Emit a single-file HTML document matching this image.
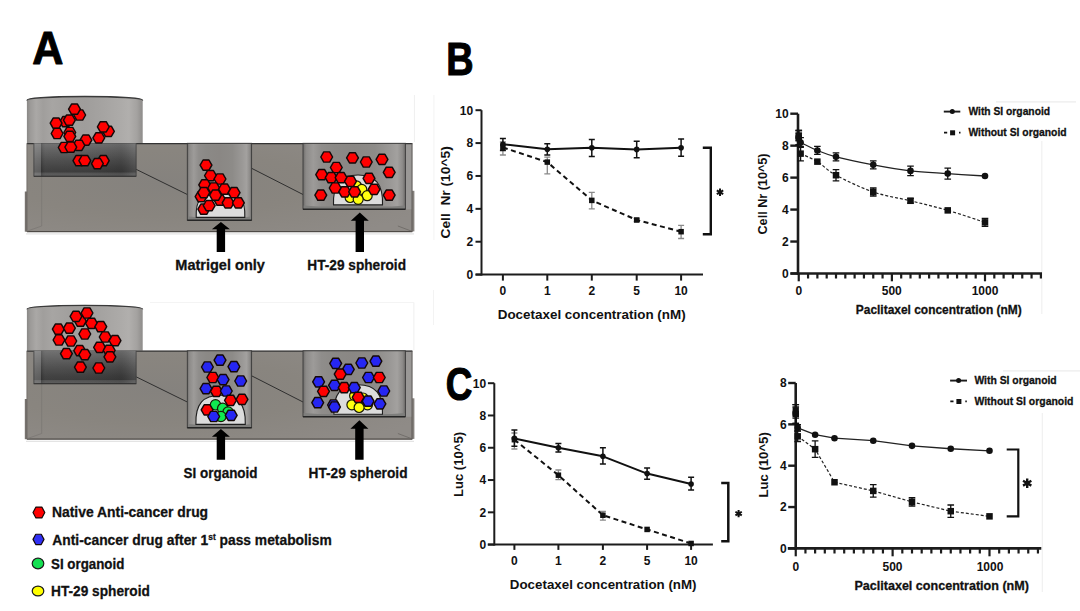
<!DOCTYPE html>
<html><head><meta charset="utf-8"><style>
html,body{margin:0;padding:0;background:#fff;}
svg{display:block;font-family:"Liberation Sans", sans-serif;}
</style></head><body>
<svg width="1080" height="611" viewBox="0 0 1080 611">

<defs>
<linearGradient id="gcyl" x1="0" x2="1" y1="0" y2="0">
 <stop offset="0" stop-color="#8a8886"/><stop offset="0.03" stop-color="#9c9a98"/><stop offset="0.08" stop-color="#aaa8a6"/><stop offset="0.14" stop-color="#a09e9c"/>
 <stop offset="0.22" stop-color="#a7a5a3"/><stop offset="0.35" stop-color="#a2a09e"/><stop offset="0.5" stop-color="#9f9d9b"/><stop offset="0.65" stop-color="#a5a3a1"/>
 <stop offset="0.8" stop-color="#acaaa8"/><stop offset="0.88" stop-color="#b1afad"/><stop offset="0.95" stop-color="#a4a2a0"/><stop offset="1" stop-color="#8e8c8a"/>
</linearGradient>
<radialGradient id="gbody" cx="0.35" cy="0.45" r="0.75">
 <stop offset="0" stop-color="#85827e"/><stop offset="0.5" stop-color="#89857f"/><stop offset="1" stop-color="#8f8b87"/>
</radialGradient>
<linearGradient id="gdarkv" x1="0" x2="0" y1="0" y2="1">
 <stop offset="0" stop-color="#6c6c6c"/><stop offset="0.2" stop-color="#5e5e5e"/><stop offset="0.5" stop-color="#4a4a4a"/><stop offset="0.75" stop-color="#3c3c3c"/><stop offset="0.87" stop-color="#373737"/><stop offset="0.9" stop-color="#4e4e4e"/><stop offset="1" stop-color="#5a5a5a"/>
</linearGradient>
<linearGradient id="gdarkh" x1="0" x2="1" y1="0" y2="0">
 <stop offset="0" stop-color="#ffffff" stop-opacity="0.22"/><stop offset="0.07" stop-color="#ffffff" stop-opacity="0.18"/><stop offset="0.075" stop-color="#000" stop-opacity="0.1"/><stop offset="0.12" stop-color="#fff" stop-opacity="0.04"/>
 <stop offset="0.5" stop-color="#fff" stop-opacity="0.03"/><stop offset="0.85" stop-color="#000" stop-opacity="0.04"/><stop offset="0.95" stop-color="#fff" stop-opacity="0.06"/><stop offset="1" stop-color="#fff" stop-opacity="0.1"/>
</linearGradient>
<linearGradient id="gwell" x1="0" x2="1" y1="0" y2="0">
 <stop offset="0" stop-color="#6e6c6a"/><stop offset="0.03" stop-color="#8c8a88"/><stop offset="0.1" stop-color="#9d9b99"/><stop offset="0.18" stop-color="#8f8d8b"/>
 <stop offset="0.3" stop-color="#8b8986"/><stop offset="0.5" stop-color="#8a8784"/><stop offset="0.7" stop-color="#8d8b88"/><stop offset="0.85" stop-color="#9a9896"/>
 <stop offset="0.92" stop-color="#a3a19f"/><stop offset="0.97" stop-color="#8e8c8a"/><stop offset="1" stop-color="#6e6c6a"/>
</linearGradient>
</defs>

<text x="0" y="0" font-size="45.49" font-weight="bold" fill="#000" stroke="#000" stroke-width="0.95" stroke-linejoin="round" transform="translate(32.17,63.55) scale(0.9501,1)">A</text>
<g transform="translate(0,0)">
<path d="M26.9,100.2 A57.9,3.9 0 0 1 142.7,100.2 V143.3 H26.9 Z" fill="url(#gcyl)" />
<path d="M26.9,100.4 A57.9,3.9 0 0 1 142.7,100.4" fill="none" stroke="#3a3a3a" stroke-width="1.3"/>
<rect x="26.9" y="143.3" width="385.4" height="88.4" fill="url(#gbody)"/>
<rect x="24.8" y="191.5" width="2.4" height="40.2" fill="#77726e"/>
<rect x="411.8" y="190.8" width="2.6" height="40.6" fill="#85817d"/>
<rect x="405.4" y="143.3" width="6.6" height="66" fill="#9a9896"/>
<line x1="26.9" y1="143.6" x2="412.3" y2="143.6" stroke="#343434" stroke-width="1.4"/>
<line x1="26.9" y1="231.6" x2="412.3" y2="231.6" stroke="#4e4a46" stroke-width="1.3"/>
<line x1="26" y1="233.9" x2="414" y2="233.9" stroke="#e4e4e4" stroke-width="1.2"/>
<line x1="26.9" y1="143.3" x2="26.9" y2="231.7" stroke="#6a6662" stroke-width="0.8"/>
<line x1="412" y1="143.3" x2="412" y2="231.7" stroke="#5a5652" stroke-width="0.9"/>
<path d="M41.7,176.3 V226 L27.5,231" fill="none" stroke="#7b7773" stroke-width="0.8"/>
<path d="M397.9,226 L411.6,231.2" fill="none" stroke="#6b6763" stroke-width="0.8"/>
<rect x="33.7" y="143.3" width="102.6" height="33" fill="url(#gdarkv)"/>
<rect x="33.7" y="143.3" width="102.6" height="33" fill="url(#gdarkh)"/>
<line x1="33.7" y1="176.2" x2="136.3" y2="176.2" stroke="#262626" stroke-width="1.1"/>
<line x1="33.9" y1="143.3" x2="33.9" y2="176.2" stroke="#3a3a3a" stroke-width="0.7"/>
<line x1="136.1" y1="143.3" x2="136.1" y2="176.2" stroke="#3a3a3a" stroke-width="0.7"/>
<line x1="136.3" y1="169.4" x2="187.3" y2="194.5" stroke="#2f2f2f" stroke-width="1"/>
<line x1="251.6" y1="168.3" x2="303" y2="194.5" stroke="#2f2f2f" stroke-width="1"/>
<rect x="187.3" y="143.3" width="64.3" height="76.9" fill="url(#gwell)" stroke="#3a3a3a" stroke-width="0.9"/>
<path d="M188,216.5 Q192,216.8 196,217.3 H245.5 Q249,216.8 251,216.5 V220 H188 Z" fill="#7e7e7c"/>
<line x1="187.3" y1="220.3" x2="251.6" y2="220.3" stroke="#262626" stroke-width="1.4"/>
<rect x="303" y="143.3" width="102.4" height="65.8" fill="url(#gwell)" stroke="#3a3a3a" stroke-width="0.9"/>
<path d="M303.7,205.5 Q310,206 318,206.5 H392 Q400,206 404.7,205.5 V209 H303.7 Z" fill="#7e7e7c"/>
<line x1="303" y1="209.3" x2="405.4" y2="209.3" stroke="#262626" stroke-width="1.4"/>
</g>
<g transform="translate(0,207.5)">
<path d="M26.9,101.5 A57.9,3.9 0 0 1 142.7,101.5 V143.3 H26.9 Z" fill="url(#gcyl)" />
<path d="M26.9,101.7 A57.9,3.9 0 0 1 142.7,101.7" fill="none" stroke="#3a3a3a" stroke-width="1.3"/>
<rect x="26.9" y="143.3" width="385.4" height="88.4" fill="url(#gbody)"/>
<rect x="24.8" y="191.5" width="2.4" height="40.2" fill="#77726e"/>
<rect x="411.8" y="190.8" width="2.6" height="40.6" fill="#85817d"/>
<rect x="405.4" y="143.3" width="6.6" height="66" fill="#9a9896"/>
<line x1="26.9" y1="143.6" x2="412.3" y2="143.6" stroke="#343434" stroke-width="1.4"/>
<line x1="26.9" y1="231.6" x2="412.3" y2="231.6" stroke="#4e4a46" stroke-width="1.3"/>
<line x1="26" y1="233.9" x2="414" y2="233.9" stroke="#e4e4e4" stroke-width="1.2"/>
<line x1="26.9" y1="143.3" x2="26.9" y2="231.7" stroke="#6a6662" stroke-width="0.8"/>
<line x1="412" y1="143.3" x2="412" y2="231.7" stroke="#5a5652" stroke-width="0.9"/>
<path d="M41.7,176.3 V226 L27.5,231" fill="none" stroke="#7b7773" stroke-width="0.8"/>
<path d="M397.9,226 L411.6,231.2" fill="none" stroke="#6b6763" stroke-width="0.8"/>
<rect x="33.7" y="143.3" width="102.6" height="33" fill="url(#gdarkv)"/>
<rect x="33.7" y="143.3" width="102.6" height="33" fill="url(#gdarkh)"/>
<line x1="33.7" y1="176.2" x2="136.3" y2="176.2" stroke="#262626" stroke-width="1.1"/>
<line x1="33.9" y1="143.3" x2="33.9" y2="176.2" stroke="#3a3a3a" stroke-width="0.7"/>
<line x1="136.1" y1="143.3" x2="136.1" y2="176.2" stroke="#3a3a3a" stroke-width="0.7"/>
<line x1="136.3" y1="169.4" x2="187.3" y2="194.5" stroke="#2f2f2f" stroke-width="1"/>
<line x1="251.6" y1="168.3" x2="303" y2="194.5" stroke="#2f2f2f" stroke-width="1"/>
<rect x="187.3" y="143.3" width="64.3" height="76.9" fill="url(#gwell)" stroke="#3a3a3a" stroke-width="0.9"/>
<path d="M188,216.5 Q192,216.8 196,217.3 H245.5 Q249,216.8 251,216.5 V220 H188 Z" fill="#7e7e7c"/>
<line x1="187.3" y1="220.3" x2="251.6" y2="220.3" stroke="#262626" stroke-width="1.4"/>
<rect x="303" y="143.3" width="102.4" height="65.8" fill="url(#gwell)" stroke="#3a3a3a" stroke-width="0.9"/>
<path d="M303.7,205.5 Q310,206 318,206.5 H392 Q400,206 404.7,205.5 V209 H303.7 Z" fill="#7e7e7c"/>
<line x1="303" y1="209.3" x2="405.4" y2="209.3" stroke="#262626" stroke-width="1.4"/>
</g>
<path d="M196.2,217.4 C195.6,201 199,194.3 220.5,194.3 C242,194.3 245.4,201 244.8,217.4 Z" fill="#dcdcdc" stroke="#1e1e1e" stroke-width="1.1"/>
<path d="M333.5,204.9 C332.8,184 340.5,175 358,175 C375.5,175 383.2,184 382.5,204.9 Z" fill="#dcdcdc" stroke="#1e1e1e" stroke-width="1.1"/>
<path d="M195.9,424.4 C195.2,404 203,395.3 220.5,395.3 C238,395.3 246,404 245.3,424.4 Z" fill="#dcdcdc" stroke="#1e1e1e" stroke-width="1.1"/>
<path d="M333.9,414.3 C333.2,394 341,384.7 358.2,384.7 C375.4,384.7 383.2,394 382.5,414.3 Z" fill="#dcdcdc" stroke="#1e1e1e" stroke-width="1.1"/>
<polygon points="85.60,115.00 82.65,120.11 76.75,120.11 73.80,115.00 76.75,109.89 82.65,109.89" fill="#ff0000" stroke="#140808" stroke-width="1.45" stroke-linejoin="round"/>
<polygon points="80.40,109.20 77.45,114.31 71.55,114.31 68.60,109.20 71.55,104.09 77.45,104.09" fill="#ff0000" stroke="#140808" stroke-width="1.45" stroke-linejoin="round"/>
<polygon points="71.60,121.70 68.65,126.81 62.75,126.81 59.80,121.70 62.75,116.59 68.65,116.59" fill="#ff0000" stroke="#140808" stroke-width="1.45" stroke-linejoin="round"/>
<polygon points="75.30,120.20 72.35,125.31 66.45,125.31 63.50,120.20 66.45,115.09 72.35,115.09" fill="#ff0000" stroke="#140808" stroke-width="1.45" stroke-linejoin="round"/>
<polygon points="62.00,123.20 59.05,128.31 53.15,128.31 50.20,123.20 53.15,118.09 59.05,118.09" fill="#ff0000" stroke="#140808" stroke-width="1.45" stroke-linejoin="round"/>
<polygon points="63.00,133.50 60.05,138.61 54.15,138.61 51.20,133.50 54.15,128.39 60.05,128.39" fill="#ff0000" stroke="#140808" stroke-width="1.45" stroke-linejoin="round"/>
<polygon points="75.70,132.50 72.75,137.61 66.85,137.61 63.90,132.50 66.85,127.39 72.75,127.39" fill="#ff0000" stroke="#140808" stroke-width="1.45" stroke-linejoin="round"/>
<polygon points="75.70,136.40 72.75,141.51 66.85,141.51 63.90,136.40 66.85,131.29 72.75,131.29" fill="#ff0000" stroke="#140808" stroke-width="1.45" stroke-linejoin="round"/>
<polygon points="114.30,131.30 111.35,136.41 105.45,136.41 102.50,131.30 105.45,126.19 111.35,126.19" fill="#ff0000" stroke="#140808" stroke-width="1.45" stroke-linejoin="round"/>
<polygon points="109.20,126.80 106.25,131.91 100.35,131.91 97.40,126.80 100.35,121.69 106.25,121.69" fill="#ff0000" stroke="#140808" stroke-width="1.45" stroke-linejoin="round"/>
<polygon points="104.70,137.90 101.75,143.01 95.85,143.01 92.90,137.90 95.85,132.79 101.75,132.79" fill="#ff0000" stroke="#140808" stroke-width="1.45" stroke-linejoin="round"/>
<polygon points="91.80,140.10 88.85,145.21 82.95,145.21 80.00,140.10 82.95,134.99 88.85,134.99" fill="#ff0000" stroke="#140808" stroke-width="1.45" stroke-linejoin="round"/>
<polygon points="84.80,145.30 81.85,150.41 75.95,150.41 73.00,145.30 75.95,140.19 81.85,140.19" fill="#ff0000" stroke="#140808" stroke-width="1.45" stroke-linejoin="round"/>
<polygon points="70.10,147.50 67.15,152.61 61.25,152.61 58.30,147.50 61.25,142.39 67.15,142.39" fill="#ff0000" stroke="#140808" stroke-width="1.45" stroke-linejoin="round"/>
<polygon points="76.70,147.20 73.75,152.31 67.85,152.31 64.90,147.20 67.85,142.09 73.75,142.09" fill="#ff0000" stroke="#140808" stroke-width="1.45" stroke-linejoin="round"/>
<polygon points="84.80,160.70 81.85,165.81 75.95,165.81 73.00,160.70 75.95,155.59 81.85,155.59" fill="#ff0000" stroke="#140808" stroke-width="1.45" stroke-linejoin="round"/>
<polygon points="90.70,160.70 87.75,165.81 81.85,165.81 78.90,160.70 81.85,155.59 87.75,155.59" fill="#ff0000" stroke="#140808" stroke-width="1.45" stroke-linejoin="round"/>
<polygon points="109.20,160.70 106.25,165.81 100.35,165.81 97.40,160.70 100.35,155.59 106.25,155.59" fill="#ff0000" stroke="#140808" stroke-width="1.45" stroke-linejoin="round"/>
<polygon points="103.30,163.70 100.35,168.81 94.45,168.81 91.50,163.70 94.45,158.59 100.35,158.59" fill="#ff0000" stroke="#140808" stroke-width="1.45" stroke-linejoin="round"/>
<polygon points="211.90,165.10 208.95,170.21 203.05,170.21 200.10,165.10 203.05,159.99 208.95,159.99" fill="#ff0000" stroke="#140808" stroke-width="1.45" stroke-linejoin="round"/>
<polygon points="216.40,175.60 213.45,180.71 207.55,180.71 204.60,175.60 207.55,170.49 213.45,170.49" fill="#ff0000" stroke="#140808" stroke-width="1.45" stroke-linejoin="round"/>
<polygon points="225.90,179.00 222.95,184.11 217.05,184.11 214.10,179.00 217.05,173.89 222.95,173.89" fill="#ff0000" stroke="#140808" stroke-width="1.45" stroke-linejoin="round"/>
<polygon points="210.60,184.90 207.65,190.01 201.75,190.01 198.80,184.90 201.75,179.79 207.65,179.79" fill="#ff0000" stroke="#140808" stroke-width="1.45" stroke-linejoin="round"/>
<polygon points="219.60,188.00 216.65,193.11 210.75,193.11 207.80,188.00 210.75,182.89 216.65,182.89" fill="#ff0000" stroke="#140808" stroke-width="1.45" stroke-linejoin="round"/>
<polygon points="230.40,189.10 227.45,194.21 221.55,194.21 218.60,189.10 221.55,183.99 227.45,183.99" fill="#ff0000" stroke="#140808" stroke-width="1.45" stroke-linejoin="round"/>
<polygon points="240.00,192.70 237.05,197.81 231.15,197.81 228.20,192.70 231.15,187.59 237.05,187.59" fill="#ff0000" stroke="#140808" stroke-width="1.45" stroke-linejoin="round"/>
<polygon points="207.00,196.60 204.05,201.71 198.15,201.71 195.20,196.60 198.15,191.49 204.05,191.49" fill="#ff0000" stroke="#140808" stroke-width="1.45" stroke-linejoin="round"/>
<polygon points="209.70,192.70 206.75,197.81 200.85,197.81 197.90,192.70 200.85,187.59 206.75,187.59" fill="#ff0000" stroke="#140808" stroke-width="1.45" stroke-linejoin="round"/>
<polygon points="225.90,200.20 222.95,205.31 217.05,205.31 214.10,200.20 217.05,195.09 222.95,195.09" fill="#ff0000" stroke="#140808" stroke-width="1.45" stroke-linejoin="round"/>
<polygon points="221.40,195.20 218.45,200.31 212.55,200.31 209.60,195.20 212.55,190.09 218.45,190.09" fill="#ff0000" stroke="#140808" stroke-width="1.45" stroke-linejoin="round"/>
<polygon points="234.00,202.90 231.05,208.01 225.15,208.01 222.20,202.90 225.15,197.79 231.05,197.79" fill="#ff0000" stroke="#140808" stroke-width="1.45" stroke-linejoin="round"/>
<polygon points="244.30,202.90 241.35,208.01 235.45,208.01 232.50,202.90 235.45,197.79 241.35,197.79" fill="#ff0000" stroke="#140808" stroke-width="1.45" stroke-linejoin="round"/>
<polygon points="209.70,209.20 206.75,214.31 200.85,214.31 197.90,209.20 200.85,204.09 206.75,204.09" fill="#ff0000" stroke="#140808" stroke-width="1.45" stroke-linejoin="round"/>
<polygon points="215.10,205.60 212.15,210.71 206.25,210.71 203.30,205.60 206.25,200.49 212.15,200.49" fill="#ff0000" stroke="#140808" stroke-width="1.45" stroke-linejoin="round"/>
<circle cx="356.40" cy="185.80" r="5" fill="#ffff10" stroke="#1a1a05" stroke-width="1.2"/>
<circle cx="361.80" cy="189.40" r="5" fill="#ffff10" stroke="#1a1a05" stroke-width="1.2"/>
<circle cx="350.10" cy="197.50" r="5" fill="#ffff10" stroke="#1a1a05" stroke-width="1.2"/>
<circle cx="367.20" cy="195.70" r="5" fill="#ffff10" stroke="#1a1a05" stroke-width="1.2"/>
<circle cx="358.20" cy="199.30" r="5" fill="#ffff10" stroke="#1a1a05" stroke-width="1.2"/>
<polygon points="332.60,157.00 329.65,162.11 323.75,162.11 320.80,157.00 323.75,151.89 329.65,151.89" fill="#ff0000" stroke="#140808" stroke-width="1.45" stroke-linejoin="round"/>
<polygon points="358.40,157.90 355.45,163.01 349.55,163.01 346.60,157.90 349.55,152.79 355.45,152.79" fill="#ff0000" stroke="#140808" stroke-width="1.45" stroke-linejoin="round"/>
<polygon points="372.20,162.00 369.25,167.11 363.35,167.11 360.40,162.00 363.35,156.89 369.25,156.89" fill="#ff0000" stroke="#140808" stroke-width="1.45" stroke-linejoin="round"/>
<polygon points="387.90,159.40 384.95,164.51 379.05,164.51 376.10,159.40 379.05,154.29 384.95,154.29" fill="#ff0000" stroke="#140808" stroke-width="1.45" stroke-linejoin="round"/>
<polygon points="342.20,167.50 339.25,172.61 333.35,172.61 330.40,167.50 333.35,162.39 339.25,162.39" fill="#ff0000" stroke="#140808" stroke-width="1.45" stroke-linejoin="round"/>
<polygon points="395.10,172.30 392.15,177.41 386.25,177.41 383.30,172.30 386.25,167.19 392.15,167.19" fill="#ff0000" stroke="#140808" stroke-width="1.45" stroke-linejoin="round"/>
<polygon points="327.60,174.70 324.65,179.81 318.75,179.81 315.80,174.70 318.75,169.59 324.65,169.59" fill="#ff0000" stroke="#140808" stroke-width="1.45" stroke-linejoin="round"/>
<polygon points="337.10,177.70 334.15,182.81 328.25,182.81 325.30,177.70 328.25,172.59 334.15,172.59" fill="#ff0000" stroke="#140808" stroke-width="1.45" stroke-linejoin="round"/>
<polygon points="347.00,177.70 344.05,182.81 338.15,182.81 335.20,177.70 338.15,172.59 344.05,172.59" fill="#ff0000" stroke="#140808" stroke-width="1.45" stroke-linejoin="round"/>
<polygon points="356.40,181.30 353.45,186.41 347.55,186.41 344.60,181.30 347.55,176.19 353.45,176.19" fill="#ff0000" stroke="#140808" stroke-width="1.45" stroke-linejoin="round"/>
<polygon points="374.90,178.30 371.95,183.41 366.05,183.41 363.10,178.30 366.05,173.19 371.95,173.19" fill="#ff0000" stroke="#140808" stroke-width="1.45" stroke-linejoin="round"/>
<polygon points="341.10,188.00 338.15,193.11 332.25,193.11 329.30,188.00 332.25,182.89 338.15,182.89" fill="#ff0000" stroke="#140808" stroke-width="1.45" stroke-linejoin="round"/>
<polygon points="350.60,191.80 347.65,196.91 341.75,196.91 338.80,191.80 341.75,186.69 347.65,186.69" fill="#ff0000" stroke="#140808" stroke-width="1.45" stroke-linejoin="round"/>
<polygon points="360.50,191.80 357.55,196.91 351.65,196.91 348.70,191.80 351.65,186.69 357.55,186.69" fill="#ff0000" stroke="#140808" stroke-width="1.45" stroke-linejoin="round"/>
<polygon points="380.00,189.40 377.05,194.51 371.15,194.51 368.20,189.40 371.15,184.29 377.05,184.29" fill="#ff0000" stroke="#140808" stroke-width="1.45" stroke-linejoin="round"/>
<polygon points="326.70,195.20 323.75,200.31 317.85,200.31 314.90,195.20 317.85,190.09 323.75,190.09" fill="#ff0000" stroke="#140808" stroke-width="1.45" stroke-linejoin="round"/>
<polygon points="395.10,195.20 392.15,200.31 386.25,200.31 383.30,195.20 386.25,190.09 392.15,190.09" fill="#ff0000" stroke="#140808" stroke-width="1.45" stroke-linejoin="round"/>
<polygon points="86.30,321.20 83.35,326.31 77.45,326.31 74.50,321.20 77.45,316.09 83.35,316.09" fill="#ff0000" stroke="#140808" stroke-width="1.45" stroke-linejoin="round"/>
<polygon points="81.90,316.40 78.95,321.51 73.05,321.51 70.10,316.40 73.05,311.29 78.95,311.29" fill="#ff0000" stroke="#140808" stroke-width="1.45" stroke-linejoin="round"/>
<polygon points="92.90,313.00 89.95,318.11 84.05,318.11 81.10,313.00 84.05,307.89 89.95,307.89" fill="#ff0000" stroke="#140808" stroke-width="1.45" stroke-linejoin="round"/>
<polygon points="97.40,323.30 94.45,328.41 88.55,328.41 85.60,323.30 88.55,318.19 94.45,318.19" fill="#ff0000" stroke="#140808" stroke-width="1.45" stroke-linejoin="round"/>
<polygon points="106.70,326.70 103.75,331.81 97.85,331.81 94.90,326.70 97.85,321.59 103.75,321.59" fill="#ff0000" stroke="#140808" stroke-width="1.45" stroke-linejoin="round"/>
<polygon points="64.20,329.20 61.25,334.31 55.35,334.31 52.40,329.20 55.35,324.09 61.25,324.09" fill="#ff0000" stroke="#140808" stroke-width="1.45" stroke-linejoin="round"/>
<polygon points="75.30,328.20 72.35,333.31 66.45,333.31 63.50,328.20 66.45,323.09 72.35,323.09" fill="#ff0000" stroke="#140808" stroke-width="1.45" stroke-linejoin="round"/>
<polygon points="90.70,334.00 87.75,339.11 81.85,339.11 78.90,334.00 81.85,328.89 87.75,328.89" fill="#ff0000" stroke="#140808" stroke-width="1.45" stroke-linejoin="round"/>
<polygon points="64.90,340.00 61.95,345.11 56.05,345.11 53.10,340.00 56.05,334.89 61.95,334.89" fill="#ff0000" stroke="#140808" stroke-width="1.45" stroke-linejoin="round"/>
<polygon points="76.70,341.00 73.75,346.11 67.85,346.11 64.90,341.00 67.85,335.89 73.75,335.89" fill="#ff0000" stroke="#140808" stroke-width="1.45" stroke-linejoin="round"/>
<polygon points="111.10,337.00 108.15,342.11 102.25,342.11 99.30,337.00 102.25,331.89 108.15,331.89" fill="#ff0000" stroke="#140808" stroke-width="1.45" stroke-linejoin="round"/>
<polygon points="120.90,340.70 117.95,345.81 112.05,345.81 109.10,340.70 112.05,335.59 117.95,335.59" fill="#ff0000" stroke="#140808" stroke-width="1.45" stroke-linejoin="round"/>
<polygon points="105.50,347.30 102.55,352.41 96.65,352.41 93.70,347.30 96.65,342.19 102.55,342.19" fill="#ff0000" stroke="#140808" stroke-width="1.45" stroke-linejoin="round"/>
<polygon points="115.10,350.30 112.15,355.41 106.25,355.41 103.30,350.30 106.25,345.19 112.15,345.19" fill="#ff0000" stroke="#140808" stroke-width="1.45" stroke-linejoin="round"/>
<polygon points="72.30,353.70 69.35,358.81 63.45,358.81 60.50,353.70 63.45,348.59 69.35,348.59" fill="#ff0000" stroke="#140808" stroke-width="1.45" stroke-linejoin="round"/>
<polygon points="85.60,350.70 82.65,355.81 76.75,355.81 73.80,350.70 76.75,345.59 82.65,345.59" fill="#ff0000" stroke="#140808" stroke-width="1.45" stroke-linejoin="round"/>
<polygon points="90.70,354.70 87.75,359.81 81.85,359.81 78.90,354.70 81.85,349.59 87.75,349.59" fill="#ff0000" stroke="#140808" stroke-width="1.45" stroke-linejoin="round"/>
<polygon points="115.80,356.90 112.85,362.01 106.95,362.01 104.00,356.90 106.95,351.79 112.85,351.79" fill="#ff0000" stroke="#140808" stroke-width="1.45" stroke-linejoin="round"/>
<polygon points="86.30,367.20 83.35,372.31 77.45,372.31 74.50,367.20 77.45,362.09 83.35,362.09" fill="#ff0000" stroke="#140808" stroke-width="1.45" stroke-linejoin="round"/>
<polygon points="104.70,368.00 101.75,373.11 95.85,373.11 92.90,368.00 95.85,362.89 101.75,362.89" fill="#ff0000" stroke="#140808" stroke-width="1.45" stroke-linejoin="round"/>
<circle cx="215.50" cy="404.80" r="5.2" fill="#10ea50" stroke="#1a1a05" stroke-width="1.2"/>
<circle cx="222.70" cy="408.40" r="5.2" fill="#10ea50" stroke="#1a1a05" stroke-width="1.2"/>
<circle cx="228.10" cy="412.00" r="5.2" fill="#10ea50" stroke="#1a1a05" stroke-width="1.2"/>
<circle cx="220.90" cy="416.50" r="5.2" fill="#10ea50" stroke="#1a1a05" stroke-width="1.2"/>
<polygon points="225.90,360.20 222.95,365.31 217.05,365.31 214.10,360.20 217.05,355.09 222.95,355.09" fill="#2626f2" stroke="#140808" stroke-width="1.45" stroke-linejoin="round"/>
<polygon points="213.30,367.00 210.35,372.11 204.45,372.11 201.50,367.00 204.45,361.89 210.35,361.89" fill="#2626f2" stroke="#140808" stroke-width="1.45" stroke-linejoin="round"/>
<polygon points="239.80,366.70 236.85,371.81 230.95,371.81 228.00,366.70 230.95,361.59 236.85,361.59" fill="#2626f2" stroke="#140808" stroke-width="1.45" stroke-linejoin="round"/>
<polygon points="218.70,377.50 215.75,382.61 209.85,382.61 206.90,377.50 209.85,372.39 215.75,372.39" fill="#ff0000" stroke="#140808" stroke-width="1.45" stroke-linejoin="round"/>
<polygon points="229.00,379.60 226.05,384.71 220.15,384.71 217.20,379.60 220.15,374.49 226.05,374.49" fill="#2626f2" stroke="#140808" stroke-width="1.45" stroke-linejoin="round"/>
<polygon points="246.60,381.00 243.65,386.11 237.75,386.11 234.80,381.00 237.75,375.89 243.65,375.89" fill="#2626f2" stroke="#140808" stroke-width="1.45" stroke-linejoin="round"/>
<polygon points="211.90,388.60 208.95,393.71 203.05,393.71 200.10,388.60 203.05,383.49 208.95,383.49" fill="#2626f2" stroke="#140808" stroke-width="1.45" stroke-linejoin="round"/>
<polygon points="222.30,391.30 219.35,396.41 213.45,396.41 210.50,391.30 213.45,386.19 219.35,386.19" fill="#ff0000" stroke="#140808" stroke-width="1.45" stroke-linejoin="round"/>
<polygon points="232.20,391.00 229.25,396.11 223.35,396.11 220.40,391.00 223.35,385.89 229.25,385.89" fill="#2626f2" stroke="#140808" stroke-width="1.45" stroke-linejoin="round"/>
<polygon points="236.40,400.30 233.45,405.41 227.55,405.41 224.60,400.30 227.55,395.19 233.45,395.19" fill="#ff0000" stroke="#140808" stroke-width="1.45" stroke-linejoin="round"/>
<polygon points="247.90,399.40 244.95,404.51 239.05,404.51 236.10,399.40 239.05,394.29 244.95,394.29" fill="#ff0000" stroke="#140808" stroke-width="1.45" stroke-linejoin="round"/>
<polygon points="213.00,409.90 210.05,415.01 204.15,415.01 201.20,409.90 204.15,404.79 210.05,404.79" fill="#ff0000" stroke="#140808" stroke-width="1.45" stroke-linejoin="round"/>
<polygon points="219.60,416.50 216.65,421.61 210.75,421.61 207.80,416.50 210.75,411.39 216.65,411.39" fill="#2626f2" stroke="#140808" stroke-width="1.45" stroke-linejoin="round"/>
<polygon points="237.10,415.30 234.15,420.41 228.25,420.41 225.30,415.30 228.25,410.19 234.15,410.19" fill="#2626f2" stroke="#140808" stroke-width="1.45" stroke-linejoin="round"/>
<circle cx="354.60" cy="395.80" r="5" fill="#ffff10" stroke="#1a1a05" stroke-width="1.2"/>
<circle cx="363.00" cy="398.00" r="5" fill="#ffff10" stroke="#1a1a05" stroke-width="1.2"/>
<circle cx="367.50" cy="404.80" r="5" fill="#ffff10" stroke="#1a1a05" stroke-width="1.2"/>
<circle cx="351.90" cy="404.80" r="5" fill="#ffff10" stroke="#1a1a05" stroke-width="1.2"/>
<circle cx="359.10" cy="407.50" r="5" fill="#ffff10" stroke="#1a1a05" stroke-width="1.2"/>
<polygon points="341.60,363.40 338.65,368.51 332.75,368.51 329.80,363.40 332.75,358.29 338.65,358.29" fill="#2626f2" stroke="#140808" stroke-width="1.45" stroke-linejoin="round"/>
<polygon points="367.70,363.00 364.75,368.11 358.85,368.11 355.90,363.00 358.85,357.89 364.75,357.89" fill="#2626f2" stroke="#140808" stroke-width="1.45" stroke-linejoin="round"/>
<polygon points="381.80,361.20 378.85,366.31 372.95,366.31 370.00,361.20 372.95,356.09 378.85,356.09" fill="#2626f2" stroke="#140808" stroke-width="1.45" stroke-linejoin="round"/>
<polygon points="354.20,369.40 351.25,374.51 345.35,374.51 342.40,369.40 345.35,364.29 351.25,364.29" fill="#2626f2" stroke="#140808" stroke-width="1.45" stroke-linejoin="round"/>
<polygon points="346.10,374.20 343.15,379.31 337.25,379.31 334.30,374.20 337.25,369.09 343.15,369.09" fill="#ff0000" stroke="#140808" stroke-width="1.45" stroke-linejoin="round"/>
<polygon points="374.40,377.50 371.45,382.61 365.55,382.61 362.60,377.50 365.55,372.39 371.45,372.39" fill="#2626f2" stroke="#140808" stroke-width="1.45" stroke-linejoin="round"/>
<polygon points="385.20,377.50 382.25,382.61 376.35,382.61 373.40,377.50 376.35,372.39 382.25,372.39" fill="#ff0000" stroke="#140808" stroke-width="1.45" stroke-linejoin="round"/>
<polygon points="324.50,381.80 321.55,386.91 315.65,386.91 312.70,381.80 315.65,376.69 321.55,376.69" fill="#2626f2" stroke="#140808" stroke-width="1.45" stroke-linejoin="round"/>
<polygon points="340.40,385.40 337.45,390.51 331.55,390.51 328.60,385.40 331.55,380.29 337.45,380.29" fill="#2626f2" stroke="#140808" stroke-width="1.45" stroke-linejoin="round"/>
<polygon points="350.10,387.70 347.15,392.81 341.25,392.81 338.30,387.70 341.25,382.59 347.15,382.59" fill="#ff0000" stroke="#140808" stroke-width="1.45" stroke-linejoin="round"/>
<polygon points="360.20,387.70 357.25,392.81 351.35,392.81 348.40,387.70 351.35,382.59 357.25,382.59" fill="#2626f2" stroke="#140808" stroke-width="1.45" stroke-linejoin="round"/>
<polygon points="329.40,391.30 326.45,396.41 320.55,396.41 317.60,391.30 320.55,386.19 326.45,386.19" fill="#ff0000" stroke="#140808" stroke-width="1.45" stroke-linejoin="round"/>
<polygon points="389.70,391.00 386.75,396.11 380.85,396.11 377.90,391.00 380.85,385.89 386.75,385.89" fill="#2626f2" stroke="#140808" stroke-width="1.45" stroke-linejoin="round"/>
<polygon points="364.10,397.30 361.15,402.41 355.25,402.41 352.30,397.30 355.25,392.19 361.15,392.19" fill="#ff0000" stroke="#140808" stroke-width="1.45" stroke-linejoin="round"/>
<polygon points="323.60,402.70 320.65,407.81 314.75,407.81 311.80,402.70 314.75,397.59 320.65,397.59" fill="#2626f2" stroke="#140808" stroke-width="1.45" stroke-linejoin="round"/>
<polygon points="339.40,405.00 336.45,410.11 330.55,410.11 327.60,405.00 330.55,399.89 336.45,399.89" fill="#2626f2" stroke="#140808" stroke-width="1.45" stroke-linejoin="round"/>
<polygon points="340.40,407.00 337.45,412.11 331.55,412.11 328.60,407.00 331.55,401.89 337.45,401.89" fill="#2626f2" stroke="#140808" stroke-width="1.45" stroke-linejoin="round"/>
<polygon points="374.00,401.20 371.05,406.31 365.15,406.31 362.20,401.20 365.15,396.09 371.05,396.09" fill="#2626f2" stroke="#140808" stroke-width="1.45" stroke-linejoin="round"/>
<polygon points="385.80,403.90 382.85,409.01 376.95,409.01 374.00,403.90 376.95,398.79 382.85,398.79" fill="#2626f2" stroke="#140808" stroke-width="1.45" stroke-linejoin="round"/>
<path d="M216.7,252.1 V229.3 H211.9 L220.9,222 L229.9,229.3 H225.1 V252.1 Z" fill="#000"/>
<path d="M355.6,252.1 V220.8 H350.8 L359.8,212.4 L368.8,220.8 H364.0 V252.1 Z" fill="#000"/>
<path d="M216.7,459.7 V436.8 H211.9 L220.9,429.1 L229.9,436.8 H225.1 V459.7 Z" fill="#000"/>
<path d="M355.2,459.7 V428.8 H350.4 L359.4,420.2 L368.4,428.8 H363.6 V459.7 Z" fill="#000"/>
<text x="175.3" y="270.2" font-size="15.5" font-weight="bold" text-anchor="start" fill="#111" textLength="89.6" lengthAdjust="spacingAndGlyphs" stroke="#111" stroke-width="0.3" >Matrigel only</text>
<text x="307.3" y="270.2" font-size="15.5" font-weight="bold" text-anchor="start" fill="#111" textLength="98.7" lengthAdjust="spacingAndGlyphs" stroke="#111" stroke-width="0.3" >HT-29 spheroid</text>
<text x="183.6" y="477.8" font-size="15.5" font-weight="bold" text-anchor="start" fill="#111" textLength="73.9" lengthAdjust="spacingAndGlyphs" stroke="#111" stroke-width="0.3" >SI organoid</text>
<text x="308.5" y="477.8" font-size="15.5" font-weight="bold" text-anchor="start" fill="#111" textLength="99" lengthAdjust="spacingAndGlyphs" stroke="#111" stroke-width="0.3" >HT-29 spheroid</text>
<polygon points="44.80,512.50 41.85,517.97 35.95,517.97 33.00,512.50 35.95,507.03 41.85,507.03" fill="#ff0000" stroke="#140808" stroke-width="1.2" stroke-linejoin="round"/>
<polygon points="44.00,539.40 41.25,544.54 35.75,544.54 33.00,539.40 35.75,534.26 41.25,534.26" fill="#3030f4" stroke="#140808" stroke-width="1.2" stroke-linejoin="round"/>
<ellipse cx="38" cy="563.5" rx="5.8" ry="5.3" fill="#14e052" stroke="#1a1a1a" stroke-width="1.2"/>
<ellipse cx="38" cy="591" rx="5.8" ry="4.9" fill="#ffff00" stroke="#1a1a1a" stroke-width="1.2"/>
<text x="52" y="517.3" font-size="15" font-weight="bold" text-anchor="start" fill="#111" textLength="156.1" lengthAdjust="spacingAndGlyphs" stroke="#111" stroke-width="0.3" >Native Anti-cancer drug</text>
<text x="52.3" y="544.8" font-size="15" font-weight="bold" fill="#111" stroke="#111" stroke-width="0.3" textLength="279.4" lengthAdjust="spacingAndGlyphs">Anti-cancer drug after 1<tspan font-size="9" dy="-5.2">st</tspan><tspan dy="5.2"> pass metabolism</tspan></text>
<text x="51.1" y="568.5" font-size="15" font-weight="bold" text-anchor="start" fill="#111" textLength="73.2" lengthAdjust="spacingAndGlyphs" stroke="#111" stroke-width="0.3" >SI organoid</text>
<text x="51.1" y="596" font-size="15" font-weight="bold" text-anchor="start" fill="#111" textLength="98.7" lengthAdjust="spacingAndGlyphs" stroke="#111" stroke-width="0.3" >HT-29 spheroid</text>
<line x1="414.4" y1="95" x2="414.4" y2="142" stroke="#efefef" stroke-width="1"/>
<line x1="433.9" y1="95" x2="433.9" y2="240" stroke="#f3f3f3" stroke-width="1"/>
<line x1="413.9" y1="302.5" x2="413.9" y2="350" stroke="#efefef" stroke-width="1"/>
<line x1="150" y1="302.5" x2="414" y2="302.5" stroke="#f4f4f4" stroke-width="1"/>
<line x1="433.5" y1="290" x2="433.5" y2="325" stroke="#f3f3f3" stroke-width="1"/>
<line x1="996" y1="101.8" x2="1076" y2="101.8" stroke="#ececec" stroke-width="1.2"/>
<line x1="1041.8" y1="141" x2="1041.8" y2="314" stroke="#f0f0f0" stroke-width="1.2"/>
<line x1="1003" y1="370.8" x2="1080" y2="370.8" stroke="#ececec" stroke-width="1.2"/>
<line x1="1042.3" y1="413" x2="1042.3" y2="592" stroke="#f0f0f0" stroke-width="1.2"/>
<text x="0" y="0" font-size="45.64" font-weight="bold" fill="#000" stroke="#000" stroke-width="1.08" stroke-linejoin="round" transform="translate(446.32,74.65) scale(0.8299,1)">B</text>
<text x="0" y="0" font-size="45.76" font-weight="bold" fill="#000" stroke="#000" stroke-width="1.12" stroke-linejoin="round" transform="translate(445.64,400.10) scale(0.8055,1)">C</text>
<line x1="481.50" y1="110.20" x2="481.50" y2="275.60" stroke="#1c1c1c" stroke-width="2" />
<line x1="475.50" y1="274.60" x2="481.50" y2="274.60" stroke="#1c1c1c" stroke-width="2" />
<text x="473.20" y="278.90" font-size="12" font-weight="bold" text-anchor="end" fill="#111">0</text>
<line x1="475.50" y1="241.72" x2="481.50" y2="241.72" stroke="#1c1c1c" stroke-width="2" />
<text x="473.20" y="246.02" font-size="12" font-weight="bold" text-anchor="end" fill="#111">2</text>
<line x1="475.50" y1="208.84" x2="481.50" y2="208.84" stroke="#1c1c1c" stroke-width="2" />
<text x="473.20" y="213.14" font-size="12" font-weight="bold" text-anchor="end" fill="#111">4</text>
<line x1="475.50" y1="175.96" x2="481.50" y2="175.96" stroke="#1c1c1c" stroke-width="2" />
<text x="473.20" y="180.26" font-size="12" font-weight="bold" text-anchor="end" fill="#111">6</text>
<line x1="475.50" y1="143.08" x2="481.50" y2="143.08" stroke="#1c1c1c" stroke-width="2" />
<text x="473.20" y="147.38" font-size="12" font-weight="bold" text-anchor="end" fill="#111">8</text>
<line x1="475.50" y1="110.20" x2="481.50" y2="110.20" stroke="#1c1c1c" stroke-width="2" />
<text x="473.20" y="114.50" font-size="12" font-weight="bold" text-anchor="end" fill="#111">10</text>
<line x1="475.60" y1="274.60" x2="703.00" y2="274.60" stroke="#1c1c1c" stroke-width="2" />
<line x1="502.90" y1="274.60" x2="502.90" y2="280.60" stroke="#1c1c1c" stroke-width="2" />
<text x="502.90" y="294.70" font-size="12" font-weight="bold" text-anchor="middle" fill="#111">0</text>
<line x1="547.30" y1="274.60" x2="547.30" y2="280.60" stroke="#1c1c1c" stroke-width="2" />
<text x="547.30" y="294.70" font-size="12" font-weight="bold" text-anchor="middle" fill="#111">1</text>
<line x1="591.80" y1="274.60" x2="591.80" y2="280.60" stroke="#1c1c1c" stroke-width="2" />
<text x="591.80" y="294.70" font-size="12" font-weight="bold" text-anchor="middle" fill="#111">2</text>
<line x1="636.70" y1="274.60" x2="636.70" y2="280.60" stroke="#1c1c1c" stroke-width="2" />
<text x="636.70" y="294.70" font-size="12" font-weight="bold" text-anchor="middle" fill="#111">5</text>
<line x1="681.10" y1="274.60" x2="681.10" y2="280.60" stroke="#1c1c1c" stroke-width="2" />
<text x="681.10" y="294.70" font-size="12" font-weight="bold" text-anchor="middle" fill="#111">10</text>
<text x="591.7" y="318.8" font-size="13.5" font-weight="bold" text-anchor="middle" fill="#111" textLength="188" lengthAdjust="spacingAndGlyphs" >Docetaxel concentration (nM)</text>
<text x="0" y="0" font-size="13.5" font-weight="bold" text-anchor="middle" fill="#111" transform="translate(445.8,192.4) rotate(-90)" dominant-baseline="central" textLength="92.3" lengthAdjust="spacingAndGlyphs">Cell&#160; Nr (10^5)</text>
<path d="M499.90,142.00 H505.90 M502.90,142.00 V155.00 M499.90,155.00 H505.90" stroke="#8a8a8a" stroke-width="1.3" fill="none"/>
<path d="M544.30,157.20 H550.30 M547.30,157.20 V173.80 M544.30,173.80 H550.30" stroke="#8a8a8a" stroke-width="1.3" fill="none"/>
<path d="M588.80,192.30 H594.80 M591.80,192.30 V208.90 M588.80,208.90 H594.80" stroke="#8a8a8a" stroke-width="1.3" fill="none"/>
<path d="M633.70,218.50 H639.70 M636.70,218.50 V221.50 M633.70,221.50 H639.70" stroke="#8a8a8a" stroke-width="1.3" fill="none"/>
<path d="M678.10,225.30 H684.10 M681.10,225.30 V238.50 M678.10,238.50 H684.10" stroke="#8a8a8a" stroke-width="1.3" fill="none"/>
<path d="M502.90,147.50 L547.30,162.10 L591.80,200.40 L636.70,220.00 L681.10,231.70" stroke="#111" stroke-width="2" fill="none" stroke-dasharray="5,3.5" stroke-linejoin="round"/>
<rect x="500.15" y="144.75" width="5.5" height="5.5" fill="#111"/>
<rect x="544.55" y="159.35" width="5.5" height="5.5" fill="#111"/>
<rect x="589.05" y="197.65" width="5.5" height="5.5" fill="#111"/>
<rect x="633.95" y="217.25" width="5.5" height="5.5" fill="#111"/>
<rect x="678.35" y="228.95" width="5.5" height="5.5" fill="#111"/>
<path d="M499.90,138.50 H505.90 M502.90,138.50 V150.50 M499.90,150.50 H505.90" stroke="#111" stroke-width="1.5" fill="none"/>
<path d="M544.30,143.80 H550.30 M547.30,143.80 V155.10 M544.30,155.10 H550.30" stroke="#111" stroke-width="1.5" fill="none"/>
<path d="M588.80,139.60 H594.80 M591.80,139.60 V156.60 M588.80,156.60 H594.80" stroke="#111" stroke-width="1.5" fill="none"/>
<path d="M633.70,141.30 H639.70 M636.70,141.30 V157.70 M633.70,157.70 H639.70" stroke="#111" stroke-width="1.5" fill="none"/>
<path d="M678.10,139.10 H684.10 M681.10,139.10 V156.20 M678.10,156.20 H684.10" stroke="#111" stroke-width="1.5" fill="none"/>
<path d="M502.90,144.20 L547.30,149.30 L591.80,147.70 L636.70,149.40 L681.10,147.70" stroke="#111" stroke-width="2" fill="none" stroke-linejoin="round"/>
<circle cx="502.90" cy="144.20" r="2.8" fill="#111"/>
<circle cx="547.30" cy="149.30" r="2.8" fill="#111"/>
<circle cx="591.80" cy="147.70" r="2.8" fill="#111"/>
<circle cx="636.70" cy="149.40" r="2.8" fill="#111"/>
<circle cx="681.10" cy="147.70" r="2.8" fill="#111"/>
<path d="M702.8,147.7 H710.8 V234.3 H702.8" stroke="#111" stroke-width="2.4" fill="none"/>
<path d="M720.00,188.50 L720.00,195.90 M716.80,190.35 L723.20,194.05 M723.20,190.35 L716.80,194.05 " stroke="#111" stroke-width="2.0" stroke-linecap="butt"/>
<circle cx="720.0" cy="192.2" r="1.80" fill="#111"/>
<line x1="494.30" y1="383.20" x2="494.30" y2="545.60" stroke="#1c1c1c" stroke-width="2" />
<line x1="487.90" y1="544.60" x2="494.30" y2="544.60" stroke="#1c1c1c" stroke-width="2" />
<text x="486.20" y="548.90" font-size="12" font-weight="bold" text-anchor="end" fill="#111">0</text>
<line x1="487.90" y1="512.32" x2="494.30" y2="512.32" stroke="#1c1c1c" stroke-width="2" />
<text x="486.20" y="516.62" font-size="12" font-weight="bold" text-anchor="end" fill="#111">2</text>
<line x1="487.90" y1="480.04" x2="494.30" y2="480.04" stroke="#1c1c1c" stroke-width="2" />
<text x="486.20" y="484.34" font-size="12" font-weight="bold" text-anchor="end" fill="#111">4</text>
<line x1="487.90" y1="447.76" x2="494.30" y2="447.76" stroke="#1c1c1c" stroke-width="2" />
<text x="486.20" y="452.06" font-size="12" font-weight="bold" text-anchor="end" fill="#111">6</text>
<line x1="487.90" y1="415.48" x2="494.30" y2="415.48" stroke="#1c1c1c" stroke-width="2" />
<text x="486.20" y="419.78" font-size="12" font-weight="bold" text-anchor="end" fill="#111">8</text>
<line x1="487.90" y1="383.20" x2="494.30" y2="383.20" stroke="#1c1c1c" stroke-width="2" />
<text x="486.20" y="387.50" font-size="12" font-weight="bold" text-anchor="end" fill="#111">10</text>
<line x1="487.80" y1="544.60" x2="712.90" y2="544.60" stroke="#1c1c1c" stroke-width="2" />
<line x1="514.40" y1="544.60" x2="514.40" y2="549.90" stroke="#1c1c1c" stroke-width="2" />
<text x="514.40" y="564.90" font-size="12" font-weight="bold" text-anchor="middle" fill="#111">0</text>
<line x1="558.40" y1="544.60" x2="558.40" y2="549.90" stroke="#1c1c1c" stroke-width="2" />
<text x="558.40" y="564.90" font-size="12" font-weight="bold" text-anchor="middle" fill="#111">1</text>
<line x1="602.90" y1="544.60" x2="602.90" y2="549.90" stroke="#1c1c1c" stroke-width="2" />
<text x="602.90" y="564.90" font-size="12" font-weight="bold" text-anchor="middle" fill="#111">2</text>
<line x1="647.10" y1="544.60" x2="647.10" y2="549.90" stroke="#1c1c1c" stroke-width="2" />
<text x="647.10" y="564.90" font-size="12" font-weight="bold" text-anchor="middle" fill="#111">5</text>
<line x1="691.10" y1="544.60" x2="691.10" y2="549.90" stroke="#1c1c1c" stroke-width="2" />
<text x="691.10" y="564.90" font-size="12" font-weight="bold" text-anchor="middle" fill="#111">10</text>
<text x="603.2" y="589.1" font-size="13.5" font-weight="bold" text-anchor="middle" fill="#111" textLength="186.7" lengthAdjust="spacingAndGlyphs" >Docetaxel concentration (nM)</text>
<text x="0" y="0" font-size="13.5" font-weight="bold" text-anchor="middle" fill="#111" transform="translate(458.7,464.5) rotate(-90)" dominant-baseline="central" textLength="65" lengthAdjust="spacingAndGlyphs">Luc (10^5)</text>
<path d="M511.40,433.00 H517.40 M514.40,433.00 V449.00 M511.40,449.00 H517.40" stroke="#8a8a8a" stroke-width="1.3" fill="none"/>
<path d="M555.40,470.00 H561.40 M558.40,470.00 V479.60 M555.40,479.60 H561.40" stroke="#8a8a8a" stroke-width="1.3" fill="none"/>
<path d="M599.90,511.30 H605.90 M602.90,511.30 V520.10 M599.90,520.10 H605.90" stroke="#8a8a8a" stroke-width="1.3" fill="none"/>
<path d="M514.40,439.69 L558.40,475.20 L602.90,515.23 L647.10,529.43 L691.10,543.47" stroke="#111" stroke-width="2" fill="none" stroke-dasharray="5,3.5" stroke-linejoin="round"/>
<rect x="511.65" y="436.94" width="5.5" height="5.5" fill="#111"/>
<rect x="555.65" y="472.45" width="5.5" height="5.5" fill="#111"/>
<rect x="600.15" y="512.48" width="5.5" height="5.5" fill="#111"/>
<rect x="644.35" y="526.68" width="5.5" height="5.5" fill="#111"/>
<rect x="688.35" y="540.72" width="5.5" height="5.5" fill="#111"/>
<path d="M511.40,430.00 H517.40 M514.40,430.00 V446.20 M511.40,446.20 H517.40" stroke="#111" stroke-width="1.5" fill="none"/>
<path d="M555.40,443.40 H561.40 M558.40,443.40 V451.90 M555.40,451.90 H561.40" stroke="#111" stroke-width="1.5" fill="none"/>
<path d="M599.90,447.70 H605.90 M602.90,447.70 V464.10 M599.90,464.10 H605.90" stroke="#111" stroke-width="1.5" fill="none"/>
<path d="M644.10,467.90 H650.10 M647.10,467.90 V479.20 M644.10,479.20 H650.10" stroke="#111" stroke-width="1.5" fill="none"/>
<path d="M688.10,477.30 H694.10 M691.10,477.30 V489.90 M688.10,489.90 H694.10" stroke="#111" stroke-width="1.5" fill="none"/>
<path d="M514.40,438.40 L558.40,447.76 L602.90,456.31 L647.10,473.58 L691.10,484.07" stroke="#111" stroke-width="2" fill="none" stroke-linejoin="round"/>
<circle cx="514.40" cy="438.40" r="2.8" fill="#111"/>
<circle cx="558.40" cy="447.76" r="2.8" fill="#111"/>
<circle cx="602.90" cy="456.31" r="2.8" fill="#111"/>
<circle cx="647.10" cy="473.58" r="2.8" fill="#111"/>
<circle cx="691.10" cy="484.07" r="2.8" fill="#111"/>
<path d="M721.2,483 H728.3 V541.2 H721.2" stroke="#111" stroke-width="2.5" fill="none"/>
<path d="M738.60,509.90 L738.60,517.30 M735.40,511.75 L741.80,515.45 M741.80,511.75 L735.40,515.45 " stroke="#111" stroke-width="2.0" stroke-linecap="butt"/>
<circle cx="738.6" cy="513.6" r="1.80" fill="#111"/>
<line x1="798.00" y1="113.70" x2="798.00" y2="275.00" stroke="#1c1c1c" stroke-width="2.6" />
<line x1="790.30" y1="273.50" x2="798.00" y2="273.50" stroke="#1c1c1c" stroke-width="2.4" />
<text x="788.60" y="277.80" font-size="12" font-weight="bold" text-anchor="end" fill="#111">0</text>
<line x1="790.30" y1="241.54" x2="798.00" y2="241.54" stroke="#1c1c1c" stroke-width="2.4" />
<text x="788.60" y="245.84" font-size="12" font-weight="bold" text-anchor="end" fill="#111">2</text>
<line x1="790.30" y1="209.58" x2="798.00" y2="209.58" stroke="#1c1c1c" stroke-width="2.4" />
<text x="788.60" y="213.88" font-size="12" font-weight="bold" text-anchor="end" fill="#111">4</text>
<line x1="790.30" y1="177.62" x2="798.00" y2="177.62" stroke="#1c1c1c" stroke-width="2.4" />
<text x="788.60" y="181.92" font-size="12" font-weight="bold" text-anchor="end" fill="#111">6</text>
<line x1="790.30" y1="145.66" x2="798.00" y2="145.66" stroke="#1c1c1c" stroke-width="2.4" />
<text x="788.60" y="149.96" font-size="12" font-weight="bold" text-anchor="end" fill="#111">8</text>
<line x1="790.30" y1="113.70" x2="798.00" y2="113.70" stroke="#1c1c1c" stroke-width="2.4" />
<text x="788.60" y="118.00" font-size="12" font-weight="bold" text-anchor="end" fill="#111">10</text>
<line x1="790.60" y1="273.50" x2="1042.00" y2="273.50" stroke="#1c1c1c" stroke-width="2.6" />
<line x1="798.75" y1="273.50" x2="798.75" y2="281.30" stroke="#1c1c1c" stroke-width="2.2" />
<line x1="808.06" y1="273.50" x2="808.06" y2="278.50" stroke="#1c1c1c" stroke-width="2.2" />
<line x1="817.38" y1="273.50" x2="817.38" y2="278.50" stroke="#1c1c1c" stroke-width="2.2" />
<line x1="826.69" y1="273.50" x2="826.69" y2="278.50" stroke="#1c1c1c" stroke-width="2.2" />
<line x1="836.00" y1="273.50" x2="836.00" y2="278.50" stroke="#1c1c1c" stroke-width="2.2" />
<line x1="845.31" y1="273.50" x2="845.31" y2="278.50" stroke="#1c1c1c" stroke-width="2.2" />
<line x1="854.62" y1="273.50" x2="854.62" y2="278.50" stroke="#1c1c1c" stroke-width="2.2" />
<line x1="863.94" y1="273.50" x2="863.94" y2="278.50" stroke="#1c1c1c" stroke-width="2.2" />
<line x1="873.25" y1="273.50" x2="873.25" y2="278.50" stroke="#1c1c1c" stroke-width="2.2" />
<line x1="882.56" y1="273.50" x2="882.56" y2="278.50" stroke="#1c1c1c" stroke-width="2.2" />
<line x1="891.88" y1="273.50" x2="891.88" y2="281.30" stroke="#1c1c1c" stroke-width="2.2" />
<line x1="901.19" y1="273.50" x2="901.19" y2="278.50" stroke="#1c1c1c" stroke-width="2.2" />
<line x1="910.50" y1="273.50" x2="910.50" y2="278.50" stroke="#1c1c1c" stroke-width="2.2" />
<line x1="919.81" y1="273.50" x2="919.81" y2="278.50" stroke="#1c1c1c" stroke-width="2.2" />
<line x1="929.12" y1="273.50" x2="929.12" y2="278.50" stroke="#1c1c1c" stroke-width="2.2" />
<line x1="938.44" y1="273.50" x2="938.44" y2="278.50" stroke="#1c1c1c" stroke-width="2.2" />
<line x1="947.75" y1="273.50" x2="947.75" y2="278.50" stroke="#1c1c1c" stroke-width="2.2" />
<line x1="957.06" y1="273.50" x2="957.06" y2="278.50" stroke="#1c1c1c" stroke-width="2.2" />
<line x1="966.38" y1="273.50" x2="966.38" y2="278.50" stroke="#1c1c1c" stroke-width="2.2" />
<line x1="975.69" y1="273.50" x2="975.69" y2="278.50" stroke="#1c1c1c" stroke-width="2.2" />
<line x1="985.00" y1="273.50" x2="985.00" y2="281.30" stroke="#1c1c1c" stroke-width="2.2" />
<line x1="994.31" y1="273.50" x2="994.31" y2="278.50" stroke="#1c1c1c" stroke-width="2.2" />
<line x1="1003.62" y1="273.50" x2="1003.62" y2="278.50" stroke="#1c1c1c" stroke-width="2.2" />
<line x1="1012.94" y1="273.50" x2="1012.94" y2="278.50" stroke="#1c1c1c" stroke-width="2.2" />
<line x1="1022.25" y1="273.50" x2="1022.25" y2="278.50" stroke="#1c1c1c" stroke-width="2.2" />
<line x1="1031.56" y1="273.50" x2="1031.56" y2="278.50" stroke="#1c1c1c" stroke-width="2.2" />
<line x1="1040.88" y1="273.50" x2="1040.88" y2="278.50" stroke="#1c1c1c" stroke-width="2.2" />
<text x="798.90" y="295.10" font-size="12" font-weight="bold" text-anchor="middle" fill="#111">0</text>
<text x="891.75" y="295.10" font-size="12" font-weight="bold" text-anchor="middle" fill="#111">500</text>
<text x="985.00" y="295.10" font-size="12" font-weight="bold" text-anchor="middle" fill="#111">1000</text>
<text x="855.8" y="313.6" font-size="13.3" font-weight="bold" text-anchor="start" fill="#111" textLength="165.9" lengthAdjust="spacingAndGlyphs" stroke="#111" stroke-width="0.3" >Paclitaxel concentration (nM)</text>
<text x="0" y="0" font-size="13.2" font-weight="bold" text-anchor="middle" fill="#111" transform="translate(762.9,194) rotate(-90)" dominant-baseline="central" textLength="81" lengthAdjust="spacingAndGlyphs">Cell Nr (10^5)</text>
<path d="M800.61,142.46 C803.41,143.80 811.48,148.06 817.38,150.45 C823.27,152.85 826.69,154.45 836.00,156.85 C845.31,159.24 860.83,162.49 873.25,164.84 C885.67,167.18 898.08,169.44 910.50,170.91 C922.92,172.37 935.33,172.77 947.75,173.62 C960.17,174.48 978.79,175.62 985.00,176.02" stroke="#222" stroke-width="1.3" fill="none"/>
<path d="M800.61,153.65 C803.41,154.98 811.48,158.04 817.38,161.64 C823.27,165.24 826.69,170.16 836.00,175.22 C845.31,180.28 860.83,187.74 873.25,192.00 C885.67,196.26 898.08,197.73 910.50,200.79 C922.92,203.85 935.33,206.78 947.75,210.38 C960.17,213.97 978.79,220.37 985.00,222.36" stroke="#222" stroke-width="1.2" fill="none" stroke-dasharray="3,2"/>
<path d="M795.45,130.48 H802.05 M798.75,130.48 V144.86 M795.45,144.86 H802.05" stroke="#111" stroke-width="1.3" fill="none"/>
<path d="M797.31,137.67 H803.91 M800.61,137.67 V147.26 M797.31,147.26 H803.91" stroke="#111" stroke-width="1.3" fill="none"/>
<path d="M814.08,146.46 H820.67 M817.38,146.46 V154.45 M814.08,154.45 H820.67" stroke="#111" stroke-width="1.3" fill="none"/>
<path d="M832.70,152.85 H839.30 M836.00,152.85 V160.84 M832.70,160.84 H839.30" stroke="#111" stroke-width="1.3" fill="none"/>
<path d="M869.95,160.84 H876.55 M873.25,160.84 V168.83 M869.95,168.83 H876.55" stroke="#111" stroke-width="1.3" fill="none"/>
<path d="M907.20,166.11 H913.80 M910.50,166.11 V175.70 M907.20,175.70 H913.80" stroke="#111" stroke-width="1.3" fill="none"/>
<path d="M944.45,168.03 H951.05 M947.75,168.03 V179.22 M944.45,179.22 H951.05" stroke="#111" stroke-width="1.3" fill="none"/>
<path d="M795.45,130.48 H802.05 M798.75,130.48 V144.86 M795.45,144.86 H802.05" stroke="#111" stroke-width="1.3" fill="none"/>
<path d="M797.31,146.46 H803.91 M800.61,146.46 V160.84 M797.31,160.84 H803.91" stroke="#111" stroke-width="1.3" fill="none"/>
<path d="M832.70,169.63 H839.30 M836.00,169.63 V180.82 M832.70,180.82 H839.30" stroke="#111" stroke-width="1.3" fill="none"/>
<path d="M869.95,188.01 H876.55 M873.25,188.01 V196.00 M869.95,196.00 H876.55" stroke="#111" stroke-width="1.3" fill="none"/>
<path d="M907.20,198.39 H913.80 M910.50,198.39 V203.19 M907.20,203.19 H913.80" stroke="#111" stroke-width="1.3" fill="none"/>
<path d="M981.70,218.37 H988.30 M985.00,218.37 V226.36 M981.70,226.36 H988.30" stroke="#111" stroke-width="1.3" fill="none"/>
<circle cx="798.75" cy="137.67" r="3.3" fill="#111"/>
<circle cx="800.61" cy="142.46" r="3.3" fill="#111"/>
<circle cx="817.38" cy="150.45" r="3.3" fill="#111"/>
<circle cx="836.00" cy="156.85" r="3.3" fill="#111"/>
<circle cx="873.25" cy="164.84" r="3.3" fill="#111"/>
<circle cx="910.50" cy="170.91" r="3.3" fill="#111"/>
<circle cx="947.75" cy="173.62" r="3.3" fill="#111"/>
<circle cx="985.00" cy="176.02" r="3.3" fill="#111"/>
<rect x="795.50" y="134.42" width="6.5" height="6.5" fill="#111"/>
<rect x="797.36" y="150.40" width="6.5" height="6.5" fill="#111"/>
<rect x="814.12" y="158.39" width="6.5" height="6.5" fill="#111"/>
<rect x="832.75" y="171.97" width="6.5" height="6.5" fill="#111"/>
<rect x="870.00" y="188.75" width="6.5" height="6.5" fill="#111"/>
<rect x="907.25" y="197.54" width="6.5" height="6.5" fill="#111"/>
<rect x="944.50" y="207.13" width="6.5" height="6.5" fill="#111"/>
<rect x="981.75" y="219.11" width="6.5" height="6.5" fill="#111"/>
<rect x="795.60" y="132.60" width="6.3" height="6.3" fill="#111"/>
<path d="M795.45,133.20 H802.05 M798.75,133.20 V140.87 M795.45,140.87 H802.05" stroke="#111" stroke-width="1.3" fill="none"/>
<line x1="943.80" y1="111.60" x2="960.30" y2="111.60" stroke="#1c1c1c" stroke-width="1.9" />
<circle cx="952.30" cy="111.60" r="2.5" fill="#111"/>
<text x="968.4" y="115.1" font-size="11.5" font-weight="bold" text-anchor="start" fill="#111" textLength="81.7" lengthAdjust="spacingAndGlyphs" stroke="#111" stroke-width="0.3" >With SI organoid</text>
<path d="M944,132.7 H947.2 M959,132.7 H960.5" stroke="#111" stroke-width="1.7"/>
<rect x="950.10" y="130.30" width="5.0" height="5.0" fill="#111"/>
<text x="968.4" y="135.6" font-size="11.5" font-weight="bold" text-anchor="start" fill="#111" textLength="98.2" lengthAdjust="spacingAndGlyphs" stroke="#111" stroke-width="0.3" >Without SI organoid</text>
<line x1="795.70" y1="383.00" x2="795.70" y2="549.90" stroke="#1c1c1c" stroke-width="2.6" />
<line x1="788.20" y1="548.40" x2="795.70" y2="548.40" stroke="#1c1c1c" stroke-width="2.4" />
<text x="786.60" y="552.70" font-size="12" font-weight="bold" text-anchor="end" fill="#111">0</text>
<line x1="788.20" y1="507.05" x2="795.70" y2="507.05" stroke="#1c1c1c" stroke-width="2.4" />
<text x="786.60" y="511.35" font-size="12" font-weight="bold" text-anchor="end" fill="#111">2</text>
<line x1="788.20" y1="465.70" x2="795.70" y2="465.70" stroke="#1c1c1c" stroke-width="2.4" />
<text x="786.60" y="470.00" font-size="12" font-weight="bold" text-anchor="end" fill="#111">4</text>
<line x1="788.20" y1="424.35" x2="795.70" y2="424.35" stroke="#1c1c1c" stroke-width="2.4" />
<text x="786.60" y="428.65" font-size="12" font-weight="bold" text-anchor="end" fill="#111">6</text>
<line x1="788.20" y1="383.00" x2="795.70" y2="383.00" stroke="#1c1c1c" stroke-width="2.4" />
<text x="786.60" y="387.30" font-size="12" font-weight="bold" text-anchor="end" fill="#111">8</text>
<line x1="787.80" y1="548.40" x2="1041.30" y2="548.40" stroke="#1c1c1c" stroke-width="2.6" />
<line x1="795.75" y1="548.40" x2="795.75" y2="556.30" stroke="#1c1c1c" stroke-width="2.2" />
<line x1="805.44" y1="548.40" x2="805.44" y2="553.50" stroke="#1c1c1c" stroke-width="2.2" />
<line x1="815.12" y1="548.40" x2="815.12" y2="553.50" stroke="#1c1c1c" stroke-width="2.2" />
<line x1="824.81" y1="548.40" x2="824.81" y2="553.50" stroke="#1c1c1c" stroke-width="2.2" />
<line x1="834.50" y1="548.40" x2="834.50" y2="553.50" stroke="#1c1c1c" stroke-width="2.2" />
<line x1="844.19" y1="548.40" x2="844.19" y2="553.50" stroke="#1c1c1c" stroke-width="2.2" />
<line x1="853.88" y1="548.40" x2="853.88" y2="553.50" stroke="#1c1c1c" stroke-width="2.2" />
<line x1="863.56" y1="548.40" x2="863.56" y2="553.50" stroke="#1c1c1c" stroke-width="2.2" />
<line x1="873.25" y1="548.40" x2="873.25" y2="553.50" stroke="#1c1c1c" stroke-width="2.2" />
<line x1="882.94" y1="548.40" x2="882.94" y2="553.50" stroke="#1c1c1c" stroke-width="2.2" />
<line x1="892.62" y1="548.40" x2="892.62" y2="556.30" stroke="#1c1c1c" stroke-width="2.2" />
<line x1="902.31" y1="548.40" x2="902.31" y2="553.50" stroke="#1c1c1c" stroke-width="2.2" />
<line x1="912.00" y1="548.40" x2="912.00" y2="553.50" stroke="#1c1c1c" stroke-width="2.2" />
<line x1="921.69" y1="548.40" x2="921.69" y2="553.50" stroke="#1c1c1c" stroke-width="2.2" />
<line x1="931.38" y1="548.40" x2="931.38" y2="553.50" stroke="#1c1c1c" stroke-width="2.2" />
<line x1="941.06" y1="548.40" x2="941.06" y2="553.50" stroke="#1c1c1c" stroke-width="2.2" />
<line x1="950.75" y1="548.40" x2="950.75" y2="553.50" stroke="#1c1c1c" stroke-width="2.2" />
<line x1="960.44" y1="548.40" x2="960.44" y2="553.50" stroke="#1c1c1c" stroke-width="2.2" />
<line x1="970.12" y1="548.40" x2="970.12" y2="553.50" stroke="#1c1c1c" stroke-width="2.2" />
<line x1="979.81" y1="548.40" x2="979.81" y2="553.50" stroke="#1c1c1c" stroke-width="2.2" />
<line x1="989.50" y1="548.40" x2="989.50" y2="556.30" stroke="#1c1c1c" stroke-width="2.2" />
<line x1="999.19" y1="548.40" x2="999.19" y2="553.50" stroke="#1c1c1c" stroke-width="2.2" />
<line x1="1008.88" y1="548.40" x2="1008.88" y2="553.50" stroke="#1c1c1c" stroke-width="2.2" />
<line x1="1018.56" y1="548.40" x2="1018.56" y2="553.50" stroke="#1c1c1c" stroke-width="2.2" />
<line x1="1028.25" y1="548.40" x2="1028.25" y2="553.50" stroke="#1c1c1c" stroke-width="2.2" />
<line x1="1037.94" y1="548.40" x2="1037.94" y2="553.50" stroke="#1c1c1c" stroke-width="2.2" />
<text x="795.75" y="570.80" font-size="12" font-weight="bold" text-anchor="middle" fill="#111">0</text>
<text x="892.50" y="570.80" font-size="12" font-weight="bold" text-anchor="middle" fill="#111">500</text>
<text x="990.00" y="570.80" font-size="12" font-weight="bold" text-anchor="middle" fill="#111">1000</text>
<text x="854.4" y="589.9" font-size="13.3" font-weight="bold" text-anchor="start" fill="#111" textLength="174.5" lengthAdjust="spacingAndGlyphs" stroke="#111" stroke-width="0.3" >Paclitaxel concentration (nM)</text>
<text x="0" y="0" font-size="13.2" font-weight="bold" text-anchor="middle" fill="#111" transform="translate(763.9,464.9) rotate(-90)" dominant-baseline="central" textLength="65.4" lengthAdjust="spacingAndGlyphs">Luc (10^5)</text>
<path d="M797.69,427.86 L815.12,434.69 L834.50,438.20 L873.25,440.68 L912.00,445.85 L950.75,448.75 L989.50,450.81" stroke="#222" stroke-width="1.3" fill="none" stroke-linejoin="round"/>
<path d="M797.69,436.34 L815.12,449.16 L834.50,482.24 L873.25,490.92 L912.00,501.88 L950.75,511.19 L989.50,516.35" stroke="#222" stroke-width="1.2" fill="none" stroke-dasharray="3,2" stroke-linejoin="round"/>
<path d="M792.45,404.71 H799.05 M795.75,404.71 V423.32 M792.45,423.32 H799.05" stroke="#111" stroke-width="1.3" fill="none"/>
<path d="M794.39,424.76 H800.99 M797.69,424.76 V430.97 M794.39,430.97 H800.99" stroke="#111" stroke-width="1.3" fill="none"/>
<path d="M792.45,404.71 H799.05 M795.75,404.71 V423.32 M792.45,423.32 H799.05" stroke="#111" stroke-width="1.3" fill="none"/>
<path d="M794.39,431.17 H800.99 M797.69,431.17 V441.51 M794.39,441.51 H800.99" stroke="#111" stroke-width="1.3" fill="none"/>
<path d="M811.83,440.89 H818.42 M815.12,440.89 V457.43 M811.83,457.43 H818.42" stroke="#111" stroke-width="1.3" fill="none"/>
<path d="M869.95,484.72 H876.55 M873.25,484.72 V497.13 M869.95,497.13 H876.55" stroke="#111" stroke-width="1.3" fill="none"/>
<path d="M908.70,497.75 H915.30 M912.00,497.75 V506.02 M908.70,506.02 H915.30" stroke="#111" stroke-width="1.3" fill="none"/>
<path d="M947.45,504.98 H954.05 M950.75,504.98 V517.39 M947.45,517.39 H954.05" stroke="#111" stroke-width="1.3" fill="none"/>
<circle cx="795.75" cy="414.01" r="3.3" fill="#111"/>
<circle cx="797.69" cy="427.86" r="3.3" fill="#111"/>
<circle cx="815.12" cy="434.69" r="3.3" fill="#111"/>
<circle cx="834.50" cy="438.20" r="3.3" fill="#111"/>
<circle cx="873.25" cy="440.68" r="3.3" fill="#111"/>
<circle cx="912.00" cy="445.85" r="3.3" fill="#111"/>
<circle cx="950.75" cy="448.75" r="3.3" fill="#111"/>
<circle cx="989.50" cy="450.81" r="3.3" fill="#111"/>
<rect x="792.50" y="410.76" width="6.5" height="6.5" fill="#111"/>
<rect x="794.44" y="433.09" width="6.5" height="6.5" fill="#111"/>
<rect x="811.88" y="445.91" width="6.5" height="6.5" fill="#111"/>
<rect x="831.25" y="478.99" width="6.5" height="6.5" fill="#111"/>
<rect x="870.00" y="487.67" width="6.5" height="6.5" fill="#111"/>
<rect x="908.75" y="498.63" width="6.5" height="6.5" fill="#111"/>
<rect x="947.50" y="507.94" width="6.5" height="6.5" fill="#111"/>
<rect x="986.25" y="513.10" width="6.5" height="6.5" fill="#111"/>
<rect x="792.60" y="407.14" width="6.3" height="6.3" fill="#111"/>
<path d="M792.45,406.78 H799.05 M795.75,406.78 V418.15 M792.45,418.15 H799.05" stroke="#111" stroke-width="1.3" fill="none"/>
<line x1="950.10" y1="380.60" x2="967.00" y2="380.60" stroke="#1c1c1c" stroke-width="1.9" />
<circle cx="958.60" cy="380.60" r="2.5" fill="#111"/>
<text x="974.4" y="384.4" font-size="11.5" font-weight="bold" text-anchor="start" fill="#111" textLength="82.3" lengthAdjust="spacingAndGlyphs" stroke="#111" stroke-width="0.3" >With SI organoid</text>
<path d="M950.3,401.4 H953.5 M965.3,401.4 H966.8" stroke="#111" stroke-width="1.7"/>
<rect x="956.40" y="399.00" width="5.0" height="5.0" fill="#111"/>
<text x="974.4" y="404.5" font-size="11.5" font-weight="bold" text-anchor="start" fill="#111" textLength="99.1" lengthAdjust="spacingAndGlyphs" stroke="#111" stroke-width="0.3" >Without SI organoid</text>
<path d="M1006.7,449.5 H1018.3 V516.3 H1006.7" stroke="#111" stroke-width="2.2" fill="none"/>
<path d="M1027.20,478.40 L1027.20,488.00 M1023.04,480.80 L1031.36,485.60 M1031.36,480.80 L1023.04,485.60 " stroke="#111" stroke-width="2.4" stroke-linecap="butt"/>
<circle cx="1027.2" cy="483.2" r="2.16" fill="#111"/>
</svg></body></html>
